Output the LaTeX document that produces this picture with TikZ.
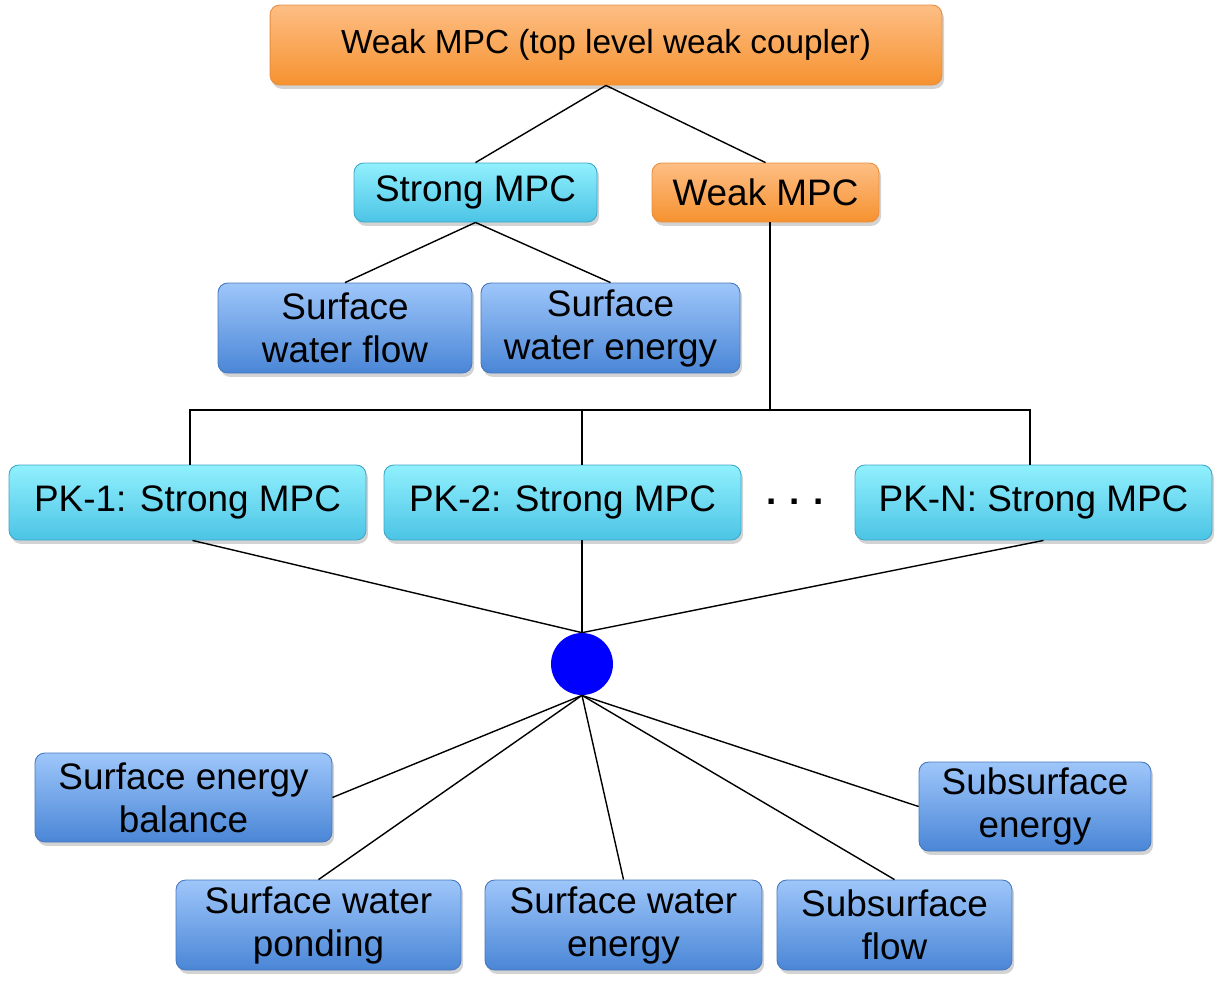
\documentclass[tikz,border=0pt]{standalone}
\usepackage{fontspec}
\setmainfont{Liberation Sans}
\usetikzlibrary{shapes.geometric, shadows}
\definecolor{orangetop}{RGB}{253,190,132}
\definecolor{orangebot}{RGB}{246,146,48}
\definecolor{orangeedge}{RGB}{232,142,62}
\definecolor{cyantop}{RGB}{145,240,253}
\definecolor{cyanbot}{RGB}{76,196,230}
\definecolor{cyanedge}{RGB}{62,168,200}
\definecolor{bluetop}{RGB}{158,198,250}
\definecolor{bluebot}{RGB}{74,134,214}
\definecolor{blueedge}{RGB}{72,120,190}
\tikzstyle{box} = [rectangle, rounded corners=5.5pt, line width=0.5pt, align=center, inner sep=0pt,
  font=\fontsize{21}{24.5}\selectfont,
  drop shadow={shadow xshift=1.2pt, shadow yshift=-2.2pt, opacity=0.35}]
\tikzstyle{weakbox} = [box, draw=orangeedge, top color=orangetop, bottom color=orangebot]
\tikzstyle{strongbox} = [box, draw=cyanedge, top color=cyantop, bottom color=cyanbot]
\tikzstyle{pkbox} = [box, draw=blueedge, top color=bluetop, bottom color=bluebot]
\tikzstyle{link} = [line width=0.8pt, black]

\begin{document}
\begin{tikzpicture}[x=0.02cm, y=-0.02cm]
  \useasboundingbox (0,0) rectangle (1221,985);

  \node [weakbox, minimum width=13.44cm, minimum height=1.6cm, font=\fontsize{19}{22}\selectfont]
    (top) at (606,45) {Weak MPC (top level weak coupler)};
  \node [strongbox, minimum width=4.86cm, minimum height=1.18cm] (strong) at (475.5,192.5) {Strong MPC};
  \node [weakbox, minimum width=4.54cm, minimum height=1.18cm] (weak) at (765.5,192.5) {Weak MPC};
  \node [pkbox, minimum width=5.08cm, minimum height=1.8cm] (swflow) at (345,328) {Surface\\water flow};
  \node [pkbox, minimum width=5.18cm, minimum height=1.8cm] (swenergy) at (610.5,328) {Surface\\water energy};

  \node [strongbox, minimum width=7.14cm, minimum height=1.5cm] (pk1) at (187.5,502.5) {PK-1: Strong MPC};
  \node [strongbox, minimum width=7.14cm, minimum height=1.5cm] (pk2) at (562.5,502.5) {PK-2: Strong MPC};
  \node [strongbox, minimum width=7.14cm, minimum height=1.5cm] (pkN) at (1033.5,502.5) {PK-N: Strong MPC};
  \node [font=\fontsize{21}{24}\selectfont\bfseries] (dots) at (795,502) {.\hspace{7.5pt}.\hspace{7.5pt}.};

  \node [circle, fill=blue, minimum size=1.24cm, inner sep=0pt] (hub) at (582,664) {};

  \node [pkbox, minimum width=5.94cm, minimum height=1.78cm] (seb) at (183.5,797.5) {Surface energy\\balance};
  \node [pkbox, minimum width=4.64cm, minimum height=1.78cm] (sse) at (1035,806.5) {Subsurface\\energy};
  \node [pkbox, minimum width=5.7cm, minimum height=1.8cm] (swp) at (318.5,925) {Surface water\\ponding};
  \node [pkbox, minimum width=5.54cm, minimum height=1.8cm] (swe) at (623.5,925) {Surface water\\energy};
  \node [pkbox, minimum width=4.7cm, minimum height=1.8cm] (ssf) at (894.5,925) {Subsurface\\flow};

  \coordinate (bus) at (0,410);
  \draw [link] (top.south) -- (strong.north);
  \draw [link] (top.south) -- (weak.north);
  \draw [link] (strong.south) -- (swflow.north);
  \draw [link] (strong.south) -- (swenergy.north);
  \draw [link] ([xshift=0.09cm]weak.south) -- ([xshift=0.09cm]weak.south |- bus);
  \draw [link] ([xshift=0.05cm]pk1.north) -- ([xshift=0.05cm]pk1.north |- bus)
    -- ([xshift=-0.07cm]pkN.north |- bus) -- ([xshift=-0.07cm]pkN.north);
  \draw [link] (hub |- pk2.north) -- (hub |- bus);

  \draw [link] ([xshift=0.1cm]pk1.south) -- (hub.north);
  \draw [link] (hub |- pk2.south) -- (hub.north);
  \draw [link] ([xshift=0.2cm]pkN.south) -- (hub.north);
  \foreach \n/\a in {seb/east, swp/north, swe/north, ssf/north, sse/west}
    \draw [link] (hub.south) -- (\n.\a);
\end{tikzpicture}
\end{document}
